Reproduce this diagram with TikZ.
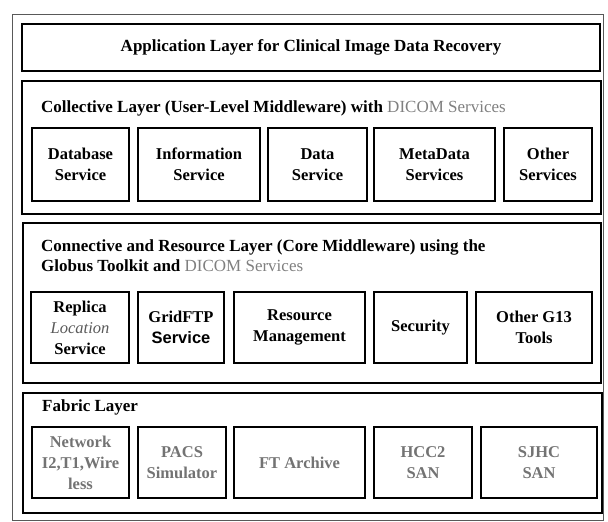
\documentclass[tikz,border=0pt]{standalone}
\usepackage{fontspec}
\setmainfont{Liberation Serif}
\newfontfamily\sansbf{Liberation Sans}
\tikzset{
    layerbox/.style={draw, line width=1.1pt, inner sep=0pt, outer sep=0pt},
    svcbox/.style={draw, line width=1.3pt, inner sep=0pt, outer sep=0pt, align=center,
        font=\fontsize{16.5}{21}\selectfont\bfseries},
    fabbox/.style={svcbox, text=black!55},
    layertitle/.style={anchor=west, inner sep=0pt, align=left,
        font=\fontsize{17}{20}\selectfont\bfseries},
    dimtext/.style={text=black!50}
}
\begin{document}
\begin{tikzpicture}[x=1pt, y=-1pt]
    \useasboundingbox (0,0) rectangle (608,522);

    % outer frame
    \draw[line width=0.9pt, black!65] (12,14) rectangle (603,520);

    % Application layer
    \node[layerbox, minimum width=578pt, minimum height=47pt] (app) at (311,47.5) {};
    \node[font=\fontsize{17}{20}\selectfont\bfseries] (apptitle) at (app.center)
        {Application Layer for Clinical Image Data Recovery};

    % Collective layer
    \node[layerbox, minimum width=579pt, minimum height=133pt] (coll) at (311.5,147.5) {};
    \node[layertitle] (colltitle) at (41,108)
        {Collective Layer (User-Level Middleware) with \textcolor{black!50}{\mdseries DICOM Services}};
    \node[svcbox, minimum width=97pt, minimum height=73pt] (dbase) at (80.5,164.5) {Database\\Service};
    \node[svcbox, minimum width=122pt, minimum height=73pt] (info) at (199,164.5) {Information\\Service};
    \node[svcbox, minimum width=99pt, minimum height=73pt] (data) at (317.5,164.5) {Data\\Service};
    \node[svcbox, minimum width=121pt, minimum height=73pt] (meta) at (434.5,164.5) {MetaData\\Services};
    \node[svcbox, minimum width=88pt, minimum height=73pt] (othsvc) at (548,164.5) {Other\\Services};

    % Connective and resource layer
    \node[layerbox, minimum width=578pt, minimum height=160pt] (conn) at (312,303) {};
    \node[layertitle] (conntitle) at (41,256)
        {Connective and Resource Layer (Core Middleware) using the\\
         Globus Toolkit and \textcolor{black!50}{\mdseries DICOM Services}};
    \node[svcbox, minimum width=98pt, minimum height=71pt] (replica) at (80,327.5)
        {Replica\\{\mdseries\itshape\color{black!65}Location}\\Service};
    \node[svcbox, minimum width=86pt, minimum height=71pt] (gridftp) at (181,327.5)
        {GridFTP\\{\sansbf\bfseries Service}};
    \node[svcbox, minimum width=131pt, minimum height=71pt] (resmgmt) at (299.5,327.5) {Resource\\Management};
    \node[svcbox, minimum width=93pt, minimum height=71pt] (security) at (420.5,327.5) {Security};
    \node[svcbox, minimum width=116pt, minimum height=71pt] (gttools) at (534,327.5) {Other G13\\Tools};

    % Fabric layer
    \node[layerbox, minimum width=579pt, minimum height=120pt] (fabric) at (312.5,453) {};
    \node[layertitle] (fabtitle) at (42,407) {Fabric Layer};
    \node[fabbox, minimum width=97pt, minimum height=71pt] (network) at (80.5,462.5) {Network\\I2,T1,Wire\\less};
    \node[fabbox, minimum width=88pt, minimum height=71pt] (pacs) at (182,462.5) {PACS\\Simulator};
    \node[fabbox, minimum width=131pt, minimum height=71pt] (ftarch) at (299.5,462.5) {FT Archive};
    \node[fabbox, minimum width=98pt, minimum height=71pt] (hcc) at (423,462.5) {HCC2\\SAN};
    \node[fabbox, minimum width=116pt, minimum height=71pt] (sjhc) at (539,462.5) {SJHC\\SAN};

\end{tikzpicture}
\end{document}
